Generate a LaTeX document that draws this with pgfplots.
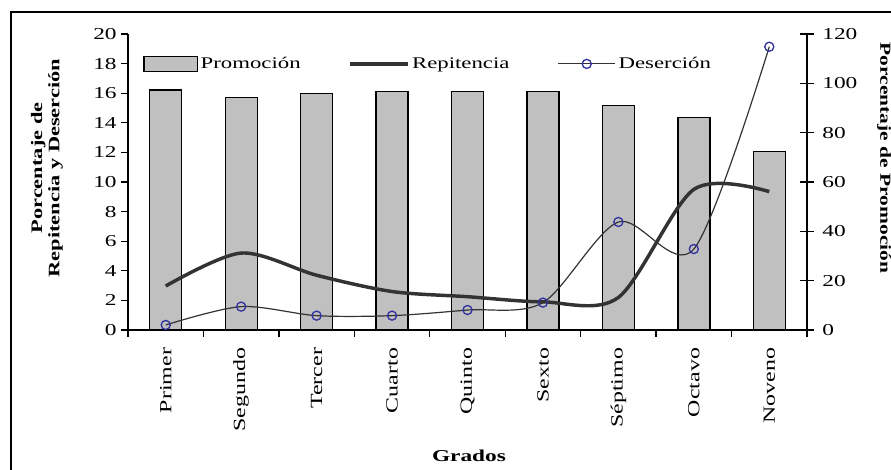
\documentclass[border=0pt]{standalone}
\usepackage{pgfplots}
\pgfplotsset{compat=1.18}
\usepackage{fontspec}
\setmainfont{Liberation Serif}[FakeStretch=1.4]
\definecolor{barfill}{HTML}{C0C0C0}
\definecolor{linegray}{HTML}{333333}
\definecolor{markblue}{HTML}{3333A0}
\pgfplotsset{
 barleg/.style={legend image code/.code={\draw[##1] (0pt,-5.5pt) rectangle (40pt,5.5pt);}},
 lineleg/.style={legend image code/.code={\draw[##1] (0pt,0pt) -- (43pt,0pt);}},
 markleg/.style={legend image code/.code={\draw[##1, mark=none] (0pt,0pt) -- (43pt,0pt); \draw[##1] plot coordinates {(21.5pt,0pt)};}},
 base/.style={width=509.25pt, height=222pt, scale only axis,
   xmin=-0.5, xmax=8.5,
   /pgf/number format/assume math mode=true,
   ticklabel style={font=\fontsize{12.5}{15}\selectfont},
   axis line style={line width=1pt},
   every tick/.style={line width=1pt, black}}
}

\begin{document}
\begin{tikzpicture}[x=1pt,y=1pt]
\begin{axis}[base, ymin=0, ymax=120, ytick={0,20,...,120},
  axis y line*=right, axis x line=none, tick align=center,
  major tick length=10pt,
  yticklabel style={xshift=3pt}]
\addplot[ybar, bar width=24pt, fill=barfill, draw=black, line width=1pt]
  coordinates {(0,97.3) (1,94.2) (2,95.8) (3,96.6) (4,96.6) (5,96.6) (6,90.9) (7,86.1) (8,72.3)};
\end{axis}
\begin{axis}[base, ymin=0, ymax=20, ytick={0,2,...,20},
  axis y line*=left, axis x line*=bottom, tick align=outside,
  major tick length=5pt,
  xtick={-0.5,0.5,...,8.5}, xticklabel={\mbox{}},
  extra x ticks={0,1,2,3,4,5,6,7,8},
  extra x tick labels={Primer,Segundo,Tercer,Cuarto,Quinto,Sexto,Séptimo,Octavo,Noveno},
  extra x tick style={major tick length=0pt, xticklabel style={rotate=90, anchor=east, font=\fontsize{12.8}{14}\selectfont, xshift=-10pt}},
  legend style={draw=none, fill=none, at={(0.4426,0.899)}, anchor=center,
    font=\fontsize{12.2}{14}\selectfont, /tikz/every even column/.append style={column sep=34pt}},
  legend columns=3]
\addlegendimage{fill=barfill, draw=black, line width=1pt, barleg}
\addlegendentry{Promoción}
\addplot[linegray, line width=2.6pt, smooth, tension=0.5, mark=none, lineleg]
  coordinates {(0,2.97) (1,5.2) (2,3.7) (3,2.6) (4,2.25) (5,1.9) (6,2.2) (7,9.5) (8,9.35)};
\addlegendentry{Repitencia}
\addplot[linegray, line width=0.9pt, smooth, tension=0.5, mark=o, mark size=3.4pt,
  mark options={draw=markblue, line width=1pt, fill=none, solid}, markleg]
  coordinates {(0,0.34) (1,1.58) (2,0.97) (3,0.97) (4,1.35) (5,1.85) (6,7.3) (7,5.47) (8,19.14)};
\addlegendentry{Deserción}
\end{axis}
\node[rotate=90, font=\bfseries\fontsize{12}{13}\selectfont, align=center] at (-60.75pt,121.5pt) {Porcentaje de\\Repitencia y Deserción};
\node[rotate=-90, font=\bfseries\fontsize{11.5}{14}\selectfont] at (567pt,129pt) {Porcentaje de Promoción};
\node[font=\bfseries\fontsize{12.5}{14}\selectfont] at (255.75pt,-94.5pt) {Grados};
\draw[line width=1.3pt] (-87.75pt,-105pt) -- (-87.75pt,238.5pt) -- (572.25pt,238.5pt);
\pgfresetboundingbox
\path[use as bounding box] (-96pt,-105pt) rectangle (572.25pt,247.5pt);
\end{tikzpicture}
\end{document}
